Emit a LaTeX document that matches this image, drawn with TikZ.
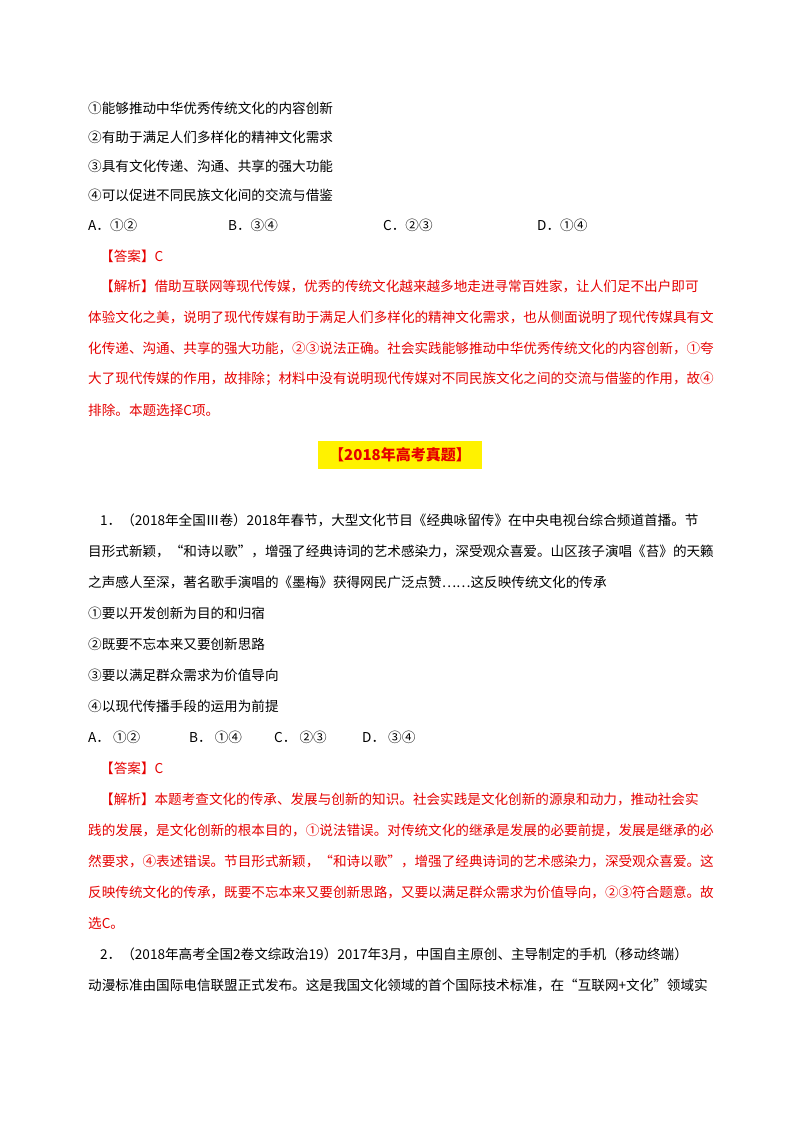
\documentclass[tikz,border=0pt]{standalone}
\usepackage{fontspec}
\setmainfont{Liberation Serif}
\newfontfamily\cjk{Noto Sans CJK SC}
\definecolor{ans}{RGB}{230,0,0}
\begin{document}
\begin{tikzpicture}[x=1pt,y=-1pt,
  ln/.style={anchor=west,inner sep=0pt,font=\cjk\fontsize{13.6}{14}\selectfont},
  rd/.style={ln,text=ans}]
\useasboundingbox (0,0) rectangle (800,1132);
\fill[white] (0,0) rectangle (800,1132);
\node[ln] (a1) at (88,108) {①能够推动中华优秀传统文化的内容创新};
\node[ln] (a2) at (88,137) {②有助于满足人们多样化的精神文化需求};
\node[ln] (a3) at (88,166) {③具有文化传递、沟通、共享的强大功能};
\node[ln] (a4) at (88,195) {④可以促进不同民族文化间的交流与借鉴};
\node[ln] (oa) at (88,225) {A．①②};
\node[ln] (ob) at (228,225) {B．③④};
\node[ln] (oc) at (383,225) {C．②③};
\node[ln] (od) at (537,225) {D．①④};
\node[rd] (an1) at (100,256) {【答案】C};
\node[rd] (j1) at (100,286) {【解析】借助互联网等现代传媒，优秀的传统文化越来越多地走进寻常百姓家，让人们足不出户即可};
\node[rd] (j2) at (88,317) {体验文化之美，说明了现代传媒有助于满足人们多样化的精神文化需求，也从侧面说明了现代传媒具有文};
\node[rd] (j3) at (88,348) {化传递、沟通、共享的强大功能，②③说法正确。社会实践能够推动中华优秀传统文化的内容创新，①夸};
\node[rd] (j4) at (88,379) {大了现代传媒的作用，故排除；材料中没有说明现代传媒对不同民族文化之间的交流与借鉴的作用，故④};
\node[rd] (j5) at (88,410) {排除。本题选择C项。};
\fill[yellow] (318,441) rectangle (482,469);
\node[inner sep=0pt,text=ans,font=\cjk\bfseries\fontsize{15}{16}\selectfont] (h) at (400,455) {【2018年高考真题】};
\node[ln] (q1) at (100,520) {1．（2018年全国Ⅲ卷）2018年春节，大型文化节目《经典咏留传》在中央电视台综合频道首播。节};
\node[ln] (q2) at (88,551) {目形式新颖，“和诗以歌”，增强了经典诗词的艺术感染力，深受观众喜爱。山区孩子演唱《苔》的天籁};
\node[ln] (q3) at (88,582) {之声感人至深，著名歌手演唱的《墨梅》获得网民广泛点赞……这反映传统文化的传承};
\node[ln] (b1) at (88,613) {①要以开发创新为目的和归宿};
\node[ln] (b2) at (88,644) {②既要不忘本来又要创新思路};
\node[ln] (b3) at (88,675) {③要以满足群众需求为价值导向};
\node[ln] (b4) at (88,706) {④以现代传播手段的运用为前提};
\node[ln] (pa) at (88,737) {A．\ ①②};
\node[ln] (pb) at (189,737) {B．\ ①④};
\node[ln] (pc) at (274,737) {C．\ ②③};
\node[ln] (pd) at (362,737) {D．\ ③④};
\node[rd] (an2) at (100,768) {【答案】C};
\node[rd] (k1) at (100,799) {【解析】本题考查文化的传承、发展与创新的知识。社会实践是文化创新的源泉和动力，推动社会实};
\node[rd] (k2) at (88,830) {践的发展，是文化创新的根本目的，①说法错误。对传统文化的继承是发展的必要前提，发展是继承的必};
\node[rd] (k3) at (88,861) {然要求，④表述错误。节目形式新颖，“和诗以歌”，增强了经典诗词的艺术感染力，深受观众喜爱。这};
\node[rd] (k4) at (88,892) {反映传统文化的传承，既要不忘本来又要创新思路，又要以满足群众需求为价值导向，②③符合题意。故};
\node[rd] (k5) at (88,923) {选C。};
\node[ln] (r1) at (100,954) {2．（2018年高考全国2卷文综政治19）2017年3月，中国自主原创、主导制定的手机（移动终端）};
\node[ln] (r2) at (88,985) {动漫标准由国际电信联盟正式发布。这是我国文化领域的首个国际技术标准，在“互联网+文化”领域实};
\end{tikzpicture}
\end{document}
